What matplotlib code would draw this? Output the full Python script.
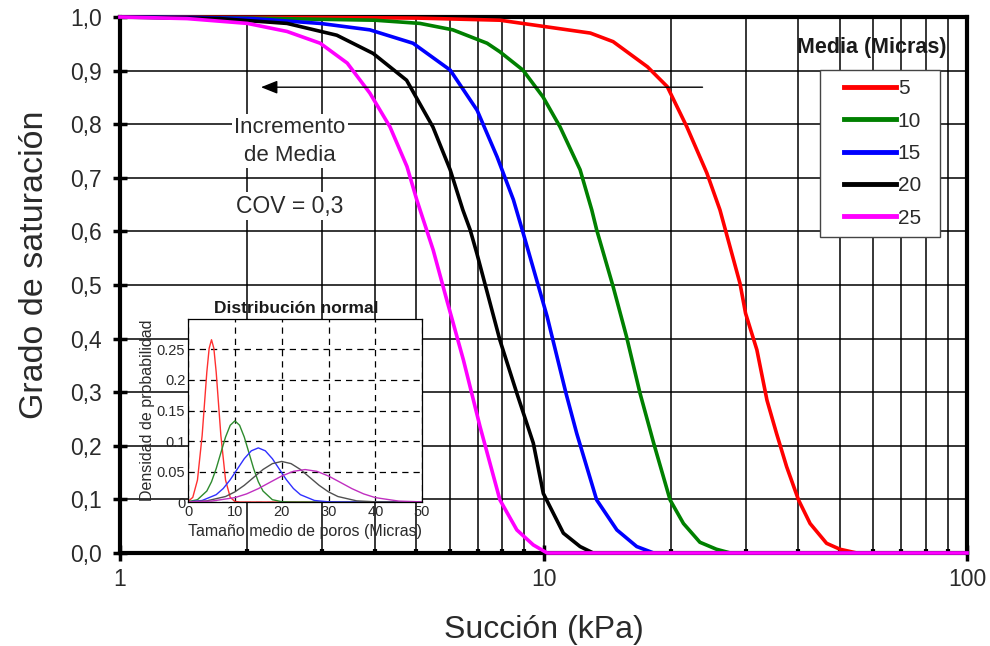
import numpy as np
import matplotlib
matplotlib.use("Agg")
import matplotlib.pyplot as plt
from matplotlib.ticker import LogLocator, NullFormatter
from matplotlib.legend_handler import HandlerLine2D
from matplotlib.lines import Line2D

plt.rcParams['font.family'] = ['Liberation Sans', 'DejaVu Sans']

# Retention curves: suction (kPa) vs degree of saturation, one per mean pore size
medias = ["5", "10", "15", "20", "25"]
colores = ["#ff0000", "#008000", "#0000ff", "#000000", "#ff00ff"]

x_5 = [1, 3, 5, 7.89, 12.9, 14.6, 17.6, 19.6, 21.8, 24.3, 26.1, 29.1, 30.0, 31.9,
       33.7, 35.5, 37.5, 40.0, 42.6, 46.6, 50.1, 54.9, 100]
s_5 = [1.0, 0.999, 0.998, 0.994, 0.970, 0.954, 0.907, 0.870, 0.795, 0.709, 0.640,
       0.503, 0.447, 0.379, 0.285, 0.223, 0.161, 0.099, 0.055, 0.018, 0.007, 0.0, 0.0]

x_10 = [1, 2, 4, 5.11, 6.11, 7.36, 7.89, 8.94, 9.97, 10.94, 12.2, 13.0, 13.35, 14.6,
        15.7, 16.9, 18.2, 19.9, 21.4, 23.4, 25.6, 27.6, 100]
s_10 = [1.0, 0.998, 0.994, 0.988, 0.976, 0.951, 0.935, 0.901, 0.851, 0.795, 0.715,
        0.640, 0.603, 0.497, 0.404, 0.298, 0.205, 0.099, 0.055, 0.020, 0.007, 0.0, 0.0]

x_15 = [1, 1.5, 2.06, 2.97, 3.89, 4.92, 6.02, 6.97, 7.77, 8.49, 8.96, 10.2, 11.3,
        11.98, 13.35, 14.9, 16.6, 18.2, 100]
s_15 = [1.0, 0.999, 0.997, 0.988, 0.976, 0.951, 0.901, 0.826, 0.739, 0.659, 0.596,
        0.441, 0.298, 0.223, 0.099, 0.043, 0.012, 0.0, 0.0]

x_20 = [1, 1.72, 2.48, 3.25, 3.96, 4.75, 5.48, 6.02, 6.45, 6.71, 6.96, 7.89, 8.65,
        9.46, 9.99, 11.14, 12.2, 13.1, 100]
s_20 = [1.0, 0.997, 0.988, 0.966, 0.932, 0.882, 0.795, 0.715, 0.640, 0.603, 0.559,
        0.397, 0.298, 0.205, 0.111, 0.037, 0.012, 0.0, 0.0]

x_25 = [1, 1.44, 2.0, 2.48, 2.97, 3.44, 3.89, 4.34, 4.76, 5.02, 5.49, 5.91, 6.47,
        7.08, 7.89, 8.65, 9.46, 10.2, 100]
s_25 = [1.0, 0.997, 0.988, 0.973, 0.951, 0.914, 0.858, 0.795, 0.721, 0.659, 0.565,
        0.472, 0.360, 0.236, 0.099, 0.043, 0.015, 0.0, 0.0]

curvas_x = [x_5, x_10, x_15, x_20, x_25]
curvas_s = [s_5, s_10, s_15, s_20, s_25]

# Pore-size density curves for the inset (micras vs density)
d_x5 = [0, 1, 2, 3, 3.5, 4, 4.5, 5, 5.5, 6, 6.5, 7, 8, 9, 10, 11, 50]
d_y5 = [0.001, 0.0076, 0.036, 0.109, 0.161, 0.213, 0.252, 0.266, 0.252, 0.213,
        0.161, 0.109, 0.036, 0.0076, 0.001, 0.0, 0.0]
d_x10 = [0, 2, 4, 5, 6, 7, 8, 9, 10, 11, 12, 13, 14, 15, 16, 18, 20, 22, 50]
d_y10 = [0.0005, 0.0038, 0.018, 0.0332, 0.0547, 0.0807, 0.1065, 0.1258, 0.133,
         0.1258, 0.1065, 0.0807, 0.0547, 0.0332, 0.018, 0.0038, 0.0005, 0.0, 0.0]
d_x15 = [0, 3, 6, 7.5, 9, 10.5, 12, 13.5, 15, 16.5, 18, 19.5, 21, 22.5, 24, 27,
         30, 33, 50]
d_y15 = [0.0003, 0.0025, 0.012, 0.0221, 0.0365, 0.0538, 0.071, 0.0839, 0.0887,
         0.0839, 0.071, 0.0538, 0.0365, 0.0221, 0.012, 0.0025, 0.0003, 0.0, 0.0]
d_x20 = [0, 4, 8, 10, 12, 14, 16, 18, 20, 22, 24, 26, 28, 30, 32, 36, 40, 44, 50]
d_y20 = [0.0003, 0.0019, 0.009, 0.0166, 0.0273, 0.0403, 0.0533, 0.0629, 0.0665,
         0.0629, 0.0533, 0.0403, 0.0273, 0.0166, 0.009, 0.0019, 0.0003, 0.0, 0.0]
d_x25 = [0, 5, 10, 12.5, 15, 17.5, 20, 22.5, 25, 27.5, 30, 32.5, 35, 37.5, 40,
         45, 50]
d_y25 = [0.0002, 0.0015, 0.0072, 0.0133, 0.0219, 0.0323, 0.0426, 0.0503, 0.0532,
         0.0503, 0.0426, 0.0323, 0.0219, 0.0133, 0.0072, 0.0015, 0.0002]

dens_x = [d_x5, d_x10, d_x15, d_x20, d_x25]
dens_y = [d_y5, d_y10, d_y15, d_y20, d_y25]
colores_inset = ["#ff3030", "#2e8b2e", "#3030ff", "#505050", "#c030c0"]

y_ticks = [0.0, 0.1, 0.2, 0.3, 0.4, 0.5, 0.6, 0.7, 0.8, 0.9, 1.0]
x_ticks = [1, 10, 100]

txt = "#2a2a2a"

fig = plt.figure(figsize=(9.9, 6.46), dpi=100)
ax = fig.add_axes([0.1212, 0.1440, 0.8556, 0.8297])
ax.set_xscale('log')
ax.set_xlim(1, 100)
ax.set_ylim(0, 1)

for xs, ss, c, lab in zip(curvas_x, curvas_s, colores, medias):
    ax.plot(xs, ss, color=c, lw=2.6, label=lab, zorder=3, clip_on=False,
            solid_joinstyle='round')

ax.set_yticks(y_ticks)
ax.set_yticklabels([f"{v:.1f}".replace('.', ',') for v in y_ticks])
ax.set_xticks(x_ticks)
ax.set_xticklabels([str(v) for v in x_ticks])
ax.xaxis.set_minor_locator(LogLocator(base=10, subs=np.arange(2, 10)))
ax.xaxis.set_minor_formatter(NullFormatter())

ax.grid(which='major', color='black', lw=1.1)
ax.grid(which='minor', axis='x', color='black', lw=1.1)
ax.set_axisbelow(True)

for sp in ax.spines.values():
    sp.set_linewidth(3)
    sp.set_color('black')

ax.tick_params(axis='y', which='major', direction='inout', length=10, width=2.5,
               labelsize=16.5, labelcolor=txt, pad=8)
ax.tick_params(axis='x', which='major', direction='inout', length=12, width=2.5,
               labelsize=16.5, labelcolor=txt, pad=5)
ax.tick_params(axis='x', which='minor', direction='in', length=3, width=3)

ax.set_ylabel("Grado de saturación", fontsize=24.5, color=txt)
ax.yaxis.set_label_coords(-0.083, 0.537)
ax.set_xlabel("Succión (kPa)", fontsize=23, color=txt, labelpad=17)

# Legend with its title placed above the frame
leg = ax.legend(loc='upper left', bbox_to_anchor=(0.826, 0.801, 0.1417, 0.1),
                mode='expand', borderaxespad=0,
                fontsize=15, frameon=True, fancybox=False, edgecolor='#444444',
                handlelength=3.2, handletextpad=0.1, labelspacing=0.64,
                borderpad=0.45, framealpha=1,
                handler_map={Line2D: HandlerLine2D(xpad=0.7)})
leg.get_frame().set_linewidth(1.0)
for h in leg.get_lines():
    h.set_linewidth(3.5)
for t in leg.get_texts():
    t.set_color(txt)
ax.text(0.888, 0.943, "Media (Micras)", transform=ax.transAxes, ha='center',
        va='center', fontsize=15.5, fontweight='bold', color='#1a1a1a')

# Arrow and notes about increasing mean
ax.annotate("", xy=(2.12, 0.869), xytext=(24.1, 0.869),
            arrowprops=dict(arrowstyle='-|>,head_length=1.0,head_width=0.4',
                            color='black', lw=1.0), zorder=4)
ax.text(2.52, 0.768, "Incremento\nde Media", ha='center', va='center', fontsize=16,
        color=txt, linespacing=1.4, zorder=4,
        bbox=dict(facecolor='white', edgecolor='none', pad=2))
ax.text(2.52, 0.647, "COV = 0,3", ha='center', va='center', fontsize=16.5,
        color=txt, zorder=4, bbox=dict(facecolor='white', edgecolor='none', pad=2))

# Inset: normal pore-size distributions
axi = fig.add_axes([0.190, 0.2229, 0.2364, 0.2833])
axi.set_facecolor('white')
for xs, ys, c in zip(dens_x, dens_y, colores_inset):
    axi.plot(xs, ys, color=c, lw=1.0)
axi.set_xlim(0, 50)
axi.set_ylim(0, 0.3)
axi.set_xticks([0, 10, 20, 30, 40, 50])
axi.set_yticks([0, 0.05, 0.1, 0.15, 0.2, 0.25])
axi.set_yticklabels(["0", "0.05", "0.1", "0.15", "0.2", "0.25"])
axi.grid(True, color='black', ls=(0, (5, 4)), lw=0.9)
axi.tick_params(length=0, labelsize=10.5, labelcolor=txt, pad=2)
for sp in axi.spines.values():
    sp.set_linewidth(0.9)
axi.set_title("Distribución normal", fontsize=12.5, fontweight='bold',
              color='#1a1a1a', pad=4, x=0.46)
axi.set_xlabel("Tamaño medio de poros (Micras)", fontsize=11.5, color=txt, labelpad=4)
axi.set_ylabel("Densidad de probabilidad", fontsize=11.5, color=txt, labelpad=1)

fig.savefig("out.png", dpi=100)
